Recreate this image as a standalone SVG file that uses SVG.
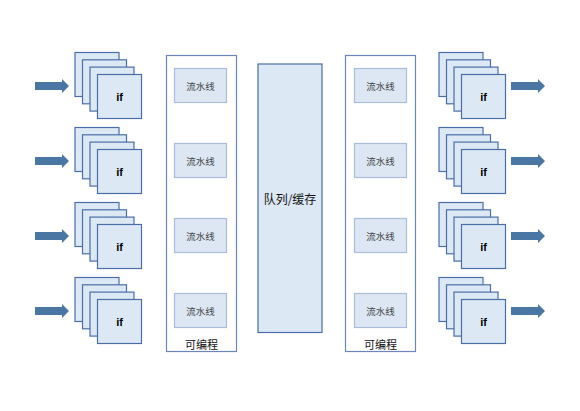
<svg xmlns="http://www.w3.org/2000/svg" width="580" height="411" viewBox="0 0 580 411">
<style>
.sq{fill:#dde8f5;stroke:#4a6ea8;stroke-width:1.2}
.if{font-family:"Liberation Sans",Arial,sans-serif;font-size:11px;font-weight:bold;fill:#000;text-anchor:middle;dominant-baseline:central}
.outer{fill:#fff;stroke:#6a86bf;stroke-width:1.2}
.pipe{fill:#dce7f3;stroke:#a9bcdc;stroke-width:1.2}
.pt{font-family:"Noto Sans CJK SC","Noto Sans",sans-serif;font-size:9.5px;fill:#444;text-anchor:middle;dominant-baseline:central}
.lbl{font-family:"Noto Sans CJK SC","Noto Sans",sans-serif;font-size:11px;fill:#111;text-anchor:middle;dominant-baseline:central}
.queue{fill:#dde8f5;stroke:#4a6ea8;stroke-width:1.2}
.arr{fill:#4a76a3}
</style>
<defs>
<g id="stack">
<rect class="sq" x="0" y="0" width="44" height="44"/>
<rect class="sq" x="7.5" y="7.3" width="44" height="44"/>
<rect class="sq" x="15" y="14.6" width="44" height="44"/>
<rect class="sq" x="22.5" y="22" width="44" height="44"/>
<text class="if" x="44.5" y="44">if</text>
</g>
<polygon id="arrow" points="0,-4 27,-4 27,-7 34,0 27,7 27,4 0,4"/>
</defs>
<g id="in1"><use href="#stack" x="75" y="52.5"/></g>
<g id="in2"><use href="#stack" x="75" y="127.5"/></g>
<g id="in3"><use href="#stack" x="75" y="202.5"/></g>
<g id="in4"><use href="#stack" x="75" y="277.5"/></g>
<g id="out1"><use href="#stack" x="439" y="52.5"/></g>
<g id="out2"><use href="#stack" x="439" y="127.5"/></g>
<g id="out3"><use href="#stack" x="439" y="202.5"/></g>
<g id="out4"><use href="#stack" x="439" y="277.5"/></g>
<g id="prog-left">
<rect class="outer" x="166.5" y="55.5" width="70" height="296"/>
<rect class="pipe" x="174.5" y="68.5" width="52" height="34"/>
<text class="pt" x="200.5" y="85.5">流水线</text>
<rect class="pipe" x="174.5" y="143.5" width="52" height="34"/>
<text class="pt" x="200.5" y="160.5">流水线</text>
<rect class="pipe" x="174.5" y="218.5" width="52" height="34"/>
<text class="pt" x="200.5" y="235.5">流水线</text>
<rect class="pipe" x="174.5" y="293.5" width="52" height="34"/>
<text class="pt" x="200.5" y="310.5">流水线</text>
<text class="lbl" x="201.5" y="344">可编程</text>
</g>
<g id="queue">
<rect class="queue" x="258" y="64" width="64" height="268.5"/>
<text class="lbl" x="290" y="198" style="font-size:12px">队列/缓存</text>
</g>
<g id="prog-right">
<rect class="outer" x="345.5" y="55.5" width="70" height="296"/>
<rect class="pipe" x="354.5" y="68.5" width="52" height="34"/>
<text class="pt" x="380.5" y="85.5">流水线</text>
<rect class="pipe" x="354.5" y="143.5" width="52" height="34"/>
<text class="pt" x="380.5" y="160.5">流水线</text>
<rect class="pipe" x="354.5" y="218.5" width="52" height="34"/>
<text class="pt" x="380.5" y="235.5">流水线</text>
<rect class="pipe" x="354.5" y="293.5" width="52" height="34"/>
<text class="pt" x="380.5" y="310.5">流水线</text>
<text class="lbl" x="380.5" y="344">可编程</text>
</g>
<g id="connectors" class="arr">
<use href="#arrow" x="35" y="86"/>
<use href="#arrow" x="35" y="161"/>
<use href="#arrow" x="35" y="236"/>
<use href="#arrow" x="35" y="311"/>
<use href="#arrow" x="511" y="86"/>
<use href="#arrow" x="511" y="161"/>
<use href="#arrow" x="511" y="236"/>
<use href="#arrow" x="511" y="311"/>
</g>
</svg>
